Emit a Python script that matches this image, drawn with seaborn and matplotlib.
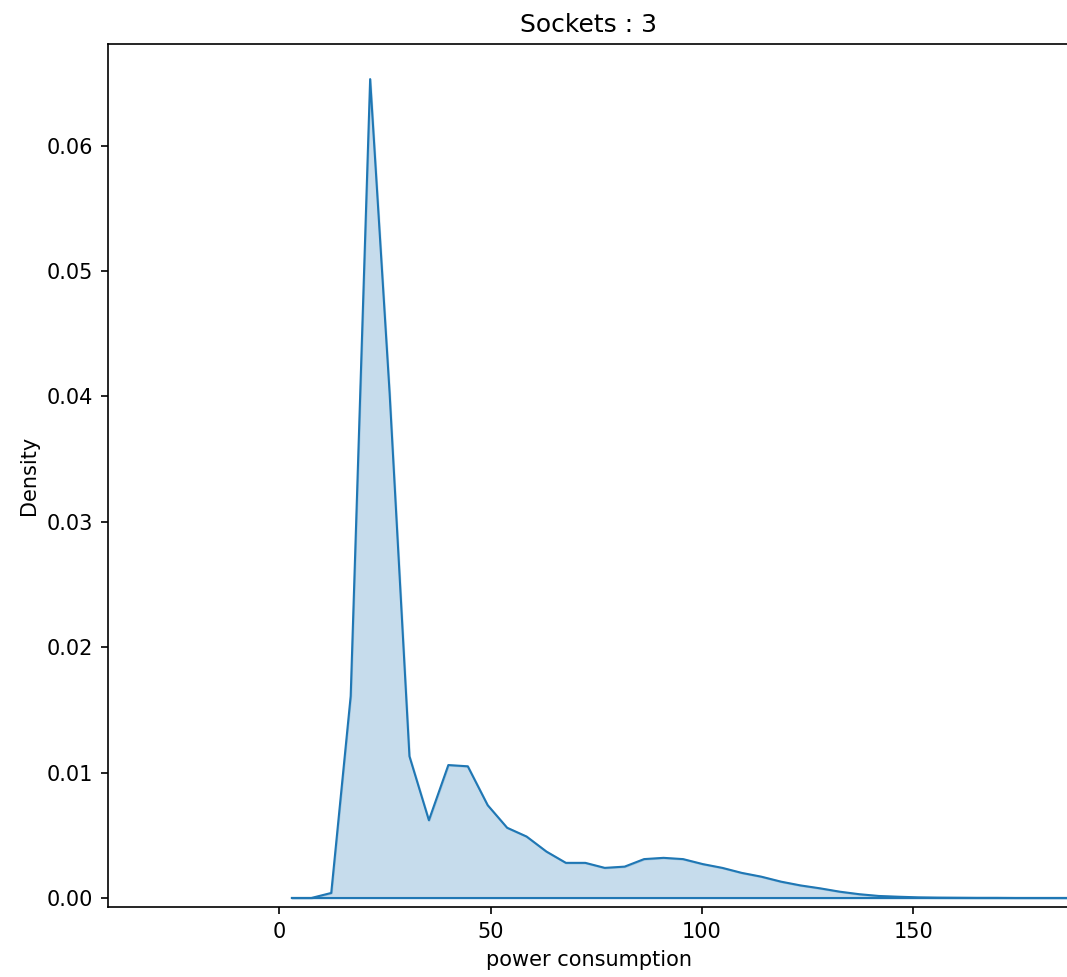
import numpy as np
import pandas as pd
import matplotlib
matplotlib.use('Agg')
import matplotlib.pyplot as plt
import seaborn as sns

# --- KDE curve values (Sockets : 3) ---
power = [3.0, 7.6, 12.3, 16.9, 21.5, 26.1, 30.8, 35.4, 40.0, 44.6,
         49.3, 53.9, 58.5, 63.2, 67.8, 72.4, 77.0, 81.7, 86.3, 90.9,
         95.5, 100.2, 104.8, 109.4, 114.0, 118.7, 123.3, 127.9, 132.6, 137.2,
         141.8, 146.4, 151.1, 155.7, 160.3, 165.0, 169.6, 174.2, 178.8, 183.5,
         188.1]
density = [0.0, 0.0, 0.0004, 0.0161, 0.0653, 0.0403, 0.0113, 0.0062, 0.0106, 0.0105,
           0.0074, 0.0056, 0.0049, 0.0037, 0.0028, 0.0028, 0.0024, 0.0025, 0.0031, 0.0032,
           0.0031, 0.0027, 0.0024, 0.0020, 0.0017, 0.0013, 0.0010, 0.00077, 0.0005, 0.0003,
           0.00016, 0.0001, 0.00005, 0.00003, 0.00002, 0.00001, 0.00001, 0.0, 0.0, 0.0,
           0.0]

df = pd.DataFrame({'power consumption': power, 'Density': density})

fig = plt.figure(figsize=(1067 / 150, 977 / 150), dpi=150)
ax = fig.add_axes([108 / 1067, 70 / 977, 961 / 1067, 863 / 977])

color = '#1f77b4'
ax.fill_between(df['power consumption'], 0, df['Density'],
                facecolor=color, edgecolor=color, alpha=0.25, linewidth=1.0)
ax.plot(df['power consumption'], np.zeros(len(df)), color=color, linewidth=1.0)
sns.lineplot(data=df, x='power consumption', y='Density', color=color,
             linewidth=1.0, ax=ax)

ax.set_xlim(-40.5, 186.8)
ax.set_ylim(-0.00072, 0.0681)
ax.set_xticks([0, 50, 100, 150])
ax.set_yticks([0.0, 0.01, 0.02, 0.03, 0.04, 0.05, 0.06])
ax.set_title('Sockets : 3')
ax.set_xlabel('power consumption')
ax.set_ylabel('Density')

fig.savefig('out.png', dpi=150)
